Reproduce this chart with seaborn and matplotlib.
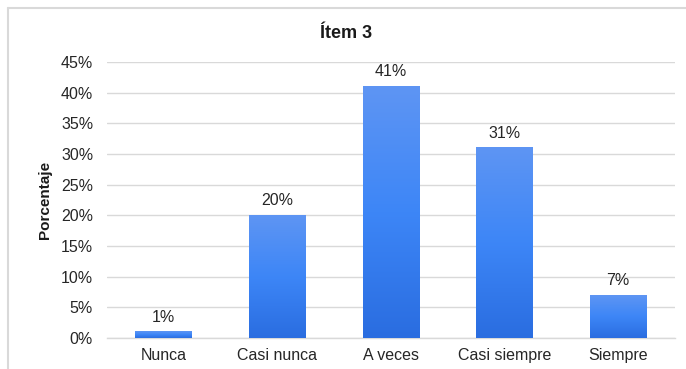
import numpy as np
import matplotlib
matplotlib.use("Agg")
import matplotlib.pyplot as plt
from matplotlib.lines import Line2D
from matplotlib.colors import LinearSegmentedColormap
import seaborn as sns

categories = ["Nunca", "Casi nunca", "A veces", "Casi siempre", "Siempre"]
values = [1, 20, 41, 31, 7]
yticks = [0, 5, 10, 15, 20, 25, 30, 35, 40, 45]
title = "Ítem 3"
ylabel = "Porcentaje"

sns.set_theme(style="white")
plt.rcParams["font.family"] = ["Liberation Sans", "DejaVu Sans"]

W, H = 686, 369
fig = plt.figure(figsize=(W / 100, H / 100), dpi=100)
ax = fig.add_axes([107 / W, 1 - 338 / H, (675 - 107) / W, (338 - 62) / H])

sns.barplot(x=categories, y=values, color="#3b82f6", width=0.5, ax=ax, zorder=2)

# vertical gradient on each bar: lighter at the top, deeper at the bottom
grad_cmap = LinearSegmentedColormap.from_list("bar", ["#2a6de0", "#3d86f7", "#5e95f3"])
grad = np.linspace(0, 1, 256).reshape(-1, 1)
for patch in ax.patches:
    x0, y0 = patch.get_x(), patch.get_y()
    w, h = patch.get_width(), patch.get_height()
    patch.set_edgecolor("none")
    ax.imshow(grad, cmap=grad_cmap, origin="lower", aspect="auto",
              extent=(x0, x0 + w, y0, y0 + h), zorder=3, interpolation="bicubic")

ax.set_xlim(-0.5, len(categories) - 0.5)
ax.set_ylim(0, 45)
ax.set_yticks(yticks)
ax.set_yticklabels([f"{t}%" for t in yticks])
ax.yaxis.grid(True, color="#d9d9d9", linewidth=1.0, zorder=0)
ax.set_axisbelow(True)
for side in ["top", "right", "left"]:
    ax.spines[side].set_visible(False)
ax.spines["bottom"].set_color("#d9d9d9")
ax.spines["bottom"].set_linewidth(1.0)
ax.tick_params(axis="y", length=0, labelsize=11.5, colors="#262626", pad=10)
ax.tick_params(axis="x", length=0, labelsize=11.5, colors="#262626", pad=7)

for i, v in enumerate(values):
    ax.text(i, v + 1.2, f"{v}%", ha="center", va="bottom", fontsize=11.5, color="#262626", zorder=4)

ax.set_xlabel("")
ax.set_ylabel(ylabel, fontsize=11, fontweight="bold", color="#1a1a1a")
ax.yaxis.set_label_coords((52 - 107) / (675 - 107), 0.5)
fig.text(346 / W, 1 - 33 / H, title, ha="center", va="center",
         fontsize=13, fontweight="bold", color="#1a1a1a")

# light border of the chart area
fig.add_artist(Line2D([8 / W, 1.0], [1 - 8 / H, 1 - 8 / H], color="#d9d9d9", linewidth=1.5))
fig.add_artist(Line2D([8 / W, 8 / W], [1 - 8 / H, 0.0], color="#d9d9d9", linewidth=1.5))

fig.savefig("out.png", dpi=100)
